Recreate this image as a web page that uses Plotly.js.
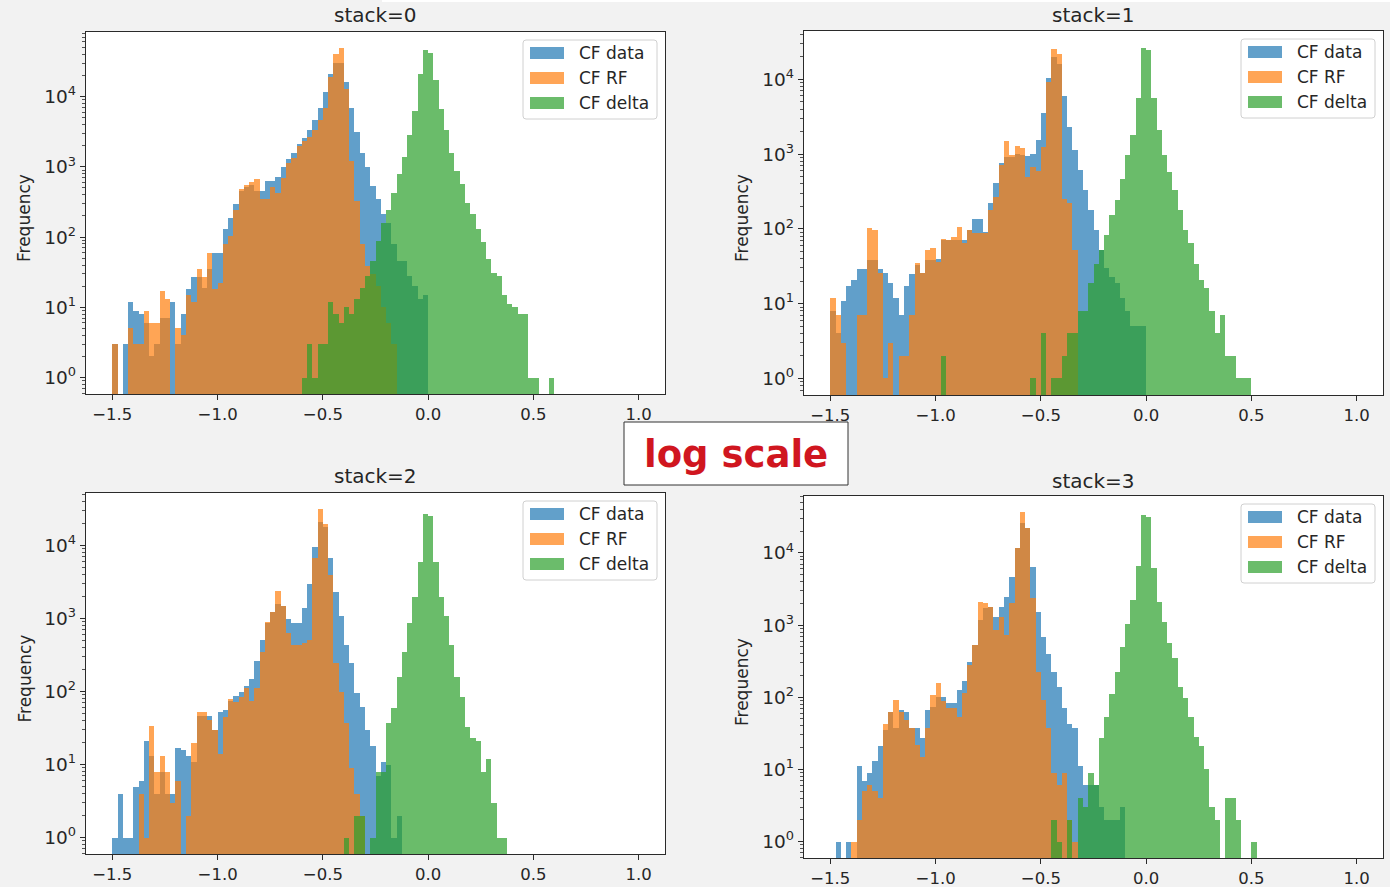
<!DOCTYPE html>
<html>
<head>
<meta charset="utf-8">
<script src="https://cdn.plot.ly/plotly-3.0.1.min.js"></script>
<style>
  html, body { margin: 0; padding: 0; background: #f2f2f2; }
  #chart { width: 1390px; height: 887px; }
</style>
</head>
<body>
<div id="chart"></div>
<script>
// Histogram bins shared by every panel: 100 bins from -1.5 to 1.0
const binStart = -1.5;
const binWidth = 0.025;
const binCount = 100;

const seriesNames = ['CF data', 'CF RF', 'CF delta'];
const panelTitles = ['stack=0', 'stack=1', 'stack=2', 'stack=3'];
const xTickValues = [-1.5, -1.0, -0.5, 0.0, 0.5, 1.0];
const xTickLabels = ['\u22121.5', '\u22121.0', '\u22120.5', '0.0', '0.5', '1.0'];
const yTickValues = [1, 10, 100, 1000, 10000];
const yTickLabels = ['10<sup>0</sup>', '10<sup>1</sup>', '10<sup>2</sup>', '10<sup>3</sup>', '10<sup>4</sup>'];
const yAxisLabel = 'Frequency';
const noteText = 'log scale';

// Counts per bin, stack=0
const stack0Data = [
  3,0,3,12,9,8,6,2,3,7,
  7,12,3,8,18,27,27,19,35,60,
  60,130,190,300,450,520,560,460,450,620,
  630,710,1000,1300,1600,2100,2600,3300,4700,6900,
  11800,21000,30000,30000,16000,6900,3100,1600,980,530,
  350,210,160,80,46,46,28,20,13,15,
  0,0,0,0,0,0,0,0,0,0,
  0,0,0,0,0,0,0,0,0,0,
  0,0,0,0,0,0,0,0,0,0,
  0,0,0,0,0,0,0,0,0,0
];
const stack0RF = [
  3,0,0,5,3,3,9,6,6,17,
  13,0,5,4,15,12,35,27,60,18,
  22,80,105,240,480,560,600,670,350,350,
  510,430,700,1150,1350,2000,2350,2650,3300,4700,
  6900,19000,40000,48500,13000,1200,330,80,39,30,
  20,10,6,3,0,0,0,0,0,0,
  0,0,0,0,0,0,0,0,0,0,
  0,0,0,0,0,0,0,0,0,0,
  0,0,0,0,0,0,0,0,0,0,
  0,0,0,0,0,0,0,0,0,0
];
const stack0Delta = [
  0,0,0,0,0,0,0,0,0,0,
  0,0,0,0,0,0,0,0,0,0,
  0,0,0,0,0,0,0,0,0,0,
  0,0,0,0,0,0,1,3,1,3,
  3,12,8,6,10,8,13,19,28,46,
  89,160,240,430,790,1370,2800,6300,21000,46000,
  42000,17000,6600,3300,1600,880,570,310,210,130,
  84,48,31,28,15,11,10,8,8,1,
  1,0,0,1,0,0,0,0,0,0,
  0,0,0,0,0,0,0,0,0,0
];

// Counts per bin, stack=1
const stack1Data = [
  8,4,11,17,21,29,29,38,38,29,
  26,19,12,7,17,25,33,26,38,38,
  40,70,70,70,70,72,98,134,134,92,
  225,415,770,920,920,1000,960,940,1000,1530,
  3600,10500,20000,16000,6000,2300,1130,610,330,178,
  96,52,30,23,19,12,8,5,5,5,
  0,0,0,0,0,0,0,0,0,0,
  0,0,0,0,0,0,0,0,0,0,
  0,0,0,0,0,0,0,0,0,0,
  0,0,0,0,0,0,0,0,0,0
];
const stack1RF = [
  12,7,3,0,0,7,7,104,98,26,
  1,3,0,2,2,7,35,26,52,55,
  36,74,70,78,107,64,96,87,87,87,
  178,268,720,1500,970,1280,1200,500,680,600,
  1250,9300,25400,21800,250,220,52,0,0,0,
  0,0,0,0,0,0,0,0,0,0,
  0,0,0,0,0,0,0,0,0,0,
  0,0,0,0,0,0,0,0,0,0,
  0,0,0,0,0,0,0,0,0,0,
  0,0,0,0,0,0,0,0,0,0
];
const stack1Delta = [
  0,0,0,0,0,0,0,0,0,0,
  0,0,0,0,0,0,0,0,0,0,
  0,2,0,0,0,0,0,0,0,0,
  0,0,0,0,0,0,0,0,1,0,
  4,0,1,1,2,4,4,8,8,19,
  34,52,82,153,240,470,970,1800,5600,26600,
  25000,5600,2100,970,580,330,178,96,64,34,
  21,16,8,4,7,2,2,1,1,1,
  0,0,0,0,0,0,0,0,0,0,
  0,0,0,0,0,0,0,0,0,0
];

// Counts per bin, stack=2
const stack2Data = [
  1,4,1,1,5,6,21,13,4,8,
  4,4,17,16,13,11,46,46,46,30,
  53,56,75,87,100,120,148,260,510,860,
  1250,1600,1500,980,860,860,1400,3000,9600,21000,
  18000,6700,2350,1070,440,245,95,62,30,18,
  7,11,10,1,2,0,0,0,0,0,
  0,0,0,0,0,0,0,0,0,0,
  0,0,0,0,0,0,0,0,0,0,
  0,0,0,0,0,0,0,0,0,0,
  0,0,0,0,0,0,0,0,0,0
];
const stack2RF = [
  0,0,0,0,0,4,1,34,8,13,
  8,3,6,0,2,20,52,52,41,30,
  14,45,79,73,85,111,75,111,350,910,
  1250,2400,1500,630,440,440,460,510,6700,31300,
  20000,4000,245,100,37,9,4,2,0,0,
  0,0,0,0,0,0,0,0,0,0,
  0,0,0,0,0,0,0,0,0,0,
  0,0,0,0,0,0,0,0,0,0,
  0,0,0,0,0,0,0,0,0,0,
  0,0,0,0,0,0,0,0,0,0
];
const stack2Delta = [
  0,0,0,0,0,0,0,0,0,0,
  0,0,0,0,0,0,0,0,0,0,
  0,0,0,0,0,0,0,0,0,0,
  0,0,0,0,0,0,0,0,0,0,
  0,0,0,0,1,0,2,2,0,1,
  8,8,37,59,160,350,860,2000,6000,27000,
  25500,6000,2000,1070,440,160,85,33,23,21,
  8,12,3,1,1,0,0,0,0,0,
  0,0,0,0,0,0,0,0,0,0,
  0,0,0,0,0,0,0,0,0,0
];

// Counts per bin, stack=3
const stack3Data = [
  0,1,0,1,0,11,7,9,13,21,
  35,63,37,66,63,37,37,27,66,74,
  100,100,82,82,125,170,310,530,1170,1700,
  1800,1300,1800,2450,4700,11800,25600,22000,6300,1500,
  690,400,225,140,70,43,37,11,6,6,
  6,3,2,2,2,3,0,0,0,0,
  0,0,0,0,0,0,0,0,0,0,
  0,0,0,0,0,0,0,0,0,0,
  0,0,0,0,0,0,0,0,0,0,
  0,0,0,0,0,0,0,0,0,0
];
const stack3RF = [
  0,0,0,0,1,2,5,6,5,4,
  43,63,91,63,48,37,22,15,37,108,
  155,89,70,70,54,113,278,530,2100,2000,
  1800,850,1300,720,2000,11800,36300,22000,2400,220,
  91,37,9,6,9,2,1,0,0,0,
  0,0,0,0,0,0,0,0,0,0,
  0,0,0,0,0,0,0,0,0,0,
  0,0,0,0,0,0,0,0,0,0,
  0,0,0,0,0,0,0,0,0,0,
  0,0,0,0,0,0,0,0,0,0
];
const stack3Delta = [
  0,0,0,0,0,0,0,0,0,0,
  0,0,0,0,0,0,0,0,0,0,
  0,0,0,0,0,0,0,0,0,0,
  0,0,0,0,0,0,0,0,0,0,
  0,0,2,1,0,2,0,4,3,9,
  6,27,54,112,225,500,1050,2200,6500,33400,
  31000,6100,2100,1100,560,350,140,96,54,28,
  21,10,3,2,0,4,4,2,0,0,
  1,0,0,0,0,0,0,0,0,0,
  0,0,0,0,0,0,0,0,0,0
];

const panelSeries = [
  [stack0Data, stack0RF, stack0Delta],
  [stack1Data, stack1RF, stack1Delta],
  [stack2Data, stack2RF, stack2Delta],
  [stack3Data, stack3RF, stack3Delta]
];

// ---- styling & layout ----
const W = 1390, H = 887;
const fx = p => p / W;
const fy = p => 1 - p / H;
const FONT = 'DejaVu Sans, Verdana, sans-serif';
const INK = '#262626';
const SPINE = '#2a2a2a';
const colors = ['#1f77b4', '#ff7f0e', '#2ca02c'];
const barAlpha = 0.7;

// plot-area rectangles in pixels
const panels = [
  {left: 86,  right: 665,  top: 32,  bottom: 394, titleY: 15},
  {left: 804, right: 1383, top: 31,  bottom: 395, titleY: 15},
  {left: 86,  right: 665,  top: 493, bottom: 854, titleY: 476},
  {left: 804, right: 1383, top: 496, bottom: 858, titleY: 481}
];

const binCenters = Array.from({length: binCount}, (_, i) => binStart + binWidth * (i + 0.5));
const binEnd = binStart + binWidth * binCount;
const xPad = 0.05 * (binEnd - binStart);

const minorTicks = [];
for (let e = -1; e <= 4; e++) {
  for (let m = 2; m <= 9; m++) minorTicks.push(m * Math.pow(10, e));
}

const traces = [];
const layout = {
  width: W, height: H,
  margin: {l: 0, r: 0, t: 0, b: 0},
  paper_bgcolor: '#f2f2f2',
  plot_bgcolor: '#ffffff',
  barmode: 'overlay',
  bargap: 0,
  showlegend: false,
  font: {family: FONT, color: INK},
  shapes: [],
  annotations: []
};

// thin white band along the top edge
layout.shapes.push({type: 'rect', xref: 'paper', yref: 'paper', layer: 'below',
  x0: fx(382), x1: 1, y0: fy(2), y1: 1, fillcolor: '#ffffff', line: {width: 0}});

function roundedRect(x0, y0, x1, y1, r) {
  // pixel rect -> paper path with small rounded corners
  const X = v => fx(v), Y = v => fy(v);
  return 'M' + X(x0 + r) + ',' + Y(y0) +
    ' L' + X(x1 - r) + ',' + Y(y0) + ' Q' + X(x1) + ',' + Y(y0) + ' ' + X(x1) + ',' + Y(y0 + r) +
    ' L' + X(x1) + ',' + Y(y1 - r) + ' Q' + X(x1) + ',' + Y(y1) + ' ' + X(x1 - r) + ',' + Y(y1) +
    ' L' + X(x0 + r) + ',' + Y(y1) + ' Q' + X(x0) + ',' + Y(y1) + ' ' + X(x0) + ',' + Y(y1 - r) +
    ' L' + X(x0) + ',' + Y(y0 + r) + ' Q' + X(x0) + ',' + Y(y0) + ' ' + X(x0 + r) + ',' + Y(y0) + ' Z';
}

panels.forEach((p, k) => {
  const s = k === 0 ? '' : String(k + 1);
  const series = panelSeries[k];

  series.forEach((counts, j) => {
    traces.push({
      type: 'bar',
      name: seriesNames[j],
      x: binCenters,
      y: counts.map(v => (v > 0 ? v : null)),
      width: binWidth,
      marker: {color: colors[j], line: {width: 0}},
      opacity: barAlpha,
      xaxis: 'x' + s,
      yaxis: 'y' + s,
      hoverinfo: 'skip'
    });
  });

  // log range with 5% margins, as the source plotting library does
  let peak = 1;
  series.forEach(c => c.forEach(v => { if (v > peak) peak = v; }));
  const L = Math.log10(peak);

  layout['xaxis' + s] = {
    domain: [fx(p.left), fx(p.right)],
    range: [binStart - xPad, binEnd + xPad],
    anchor: 'y' + s,
    tickmode: 'array', tickvals: xTickValues, ticktext: xTickLabels,
    ticks: 'outside', ticklen: 5, tickwidth: 1, tickcolor: SPINE,
    showline: true, mirror: true, linecolor: SPINE, linewidth: 1.2,
    showgrid: false, zeroline: false, fixedrange: true,
    tickfont: {family: FONT, size: 16.5, color: INK}
  };
  layout['yaxis' + s] = {
    type: 'log',
    domain: [fy(p.bottom), fy(p.top)],
    range: [-0.05 * L, 1.05 * L],
    anchor: 'x' + s,
    tickmode: 'array', tickvals: yTickValues, ticktext: yTickLabels,
    ticks: 'outside', ticklen: 5, tickwidth: 1, tickcolor: SPINE,
    minor: {tickmode: 'array', tickvals: minorTicks, ticks: 'outside', ticklen: 2.5,
            tickwidth: 0.8, tickcolor: SPINE, showgrid: false},
    showline: true, mirror: true, linecolor: SPINE, linewidth: 1.2,
    showgrid: false, zeroline: false, fixedrange: true,
    tickfont: {family: FONT, size: 18.5, color: INK}
  };

  // panel title
  layout.annotations.push({
    xref: 'paper', yref: 'paper', x: fx((p.left + p.right) / 2), y: fy(p.titleY),
    xanchor: 'center', yanchor: 'middle', showarrow: false,
    text: panelTitles[k], font: {family: FONT, size: 20, color: INK}
  });
  // y-axis label
  layout.annotations.push({
    xref: 'paper', yref: 'paper', x: fx(p.left - 62), y: fy((p.top + p.bottom) / 2 + 5),
    xanchor: 'center', yanchor: 'middle', showarrow: false, textangle: -90,
    text: yAxisLabel, font: {family: FONT, size: 17, color: INK}
  });

  // legend box in the upper-right corner
  const bx1 = p.right - 8, bx0 = bx1 - 134, by0 = p.top + 8, by1 = by0 + 79;
  layout.shapes.push({type: 'path', xref: 'paper', yref: 'paper', layer: 'above',
    path: roundedRect(bx0, by0, bx1, by1, 3),
    fillcolor: 'rgba(255,255,255,0.85)', line: {color: '#d0d0d0', width: 1}});
  seriesNames.forEach((name, j) => {
    const cy = by0 + 13 + 25 * j;
    layout.shapes.push({type: 'rect', xref: 'paper', yref: 'paper', layer: 'above',
      x0: fx(bx0 + 7), x1: fx(bx0 + 41), y0: fy(cy + 6), y1: fy(cy - 6),
      fillcolor: colors[j], opacity: barAlpha, line: {width: 0}});
    layout.annotations.push({
      xref: 'paper', yref: 'paper', x: fx(bx0 + 54), y: fy(cy),
      xanchor: 'left', yanchor: 'middle', showarrow: false,
      text: name, font: {family: FONT, size: 17, color: INK}
    });
  });
});

// the boxed note between the panels
layout.shapes.push({type: 'rect', xref: 'paper', yref: 'paper', layer: 'above',
  x0: fx(624), x1: fx(848), y0: fy(485), y1: fy(422),
  fillcolor: '#ffffff', line: {color: '#333333', width: 1}});
layout.annotations.push({
  xref: 'paper', yref: 'paper', x: fx(736), y: fy(454),
  xanchor: 'center', yanchor: 'middle', showarrow: false,
  text: noteText, font: {family: FONT, size: 37, color: '#d0161f', weight: 'bold'}
});

Plotly.newPlot('chart', traces, layout, {displayModeBar: false, staticPlot: true});
</script>
</body>
</html>
